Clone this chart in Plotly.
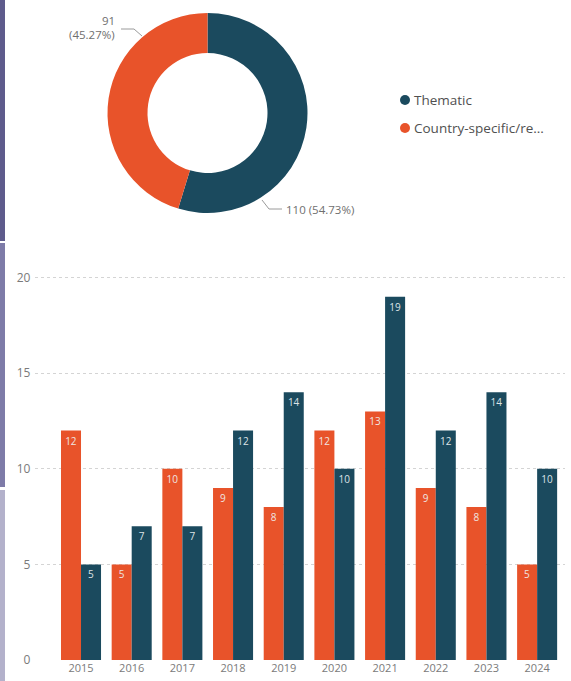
import plotly.graph_objects as go

# Yearly counts by type
years = ["2015", "2016", "2017", "2018", "2019", "2020", "2021", "2022", "2023", "2024"]
country_specific = [12, 5, 10, 9, 8, 12, 13, 9, 8, 5]
thematic = [5, 7, 7, 12, 14, 10, 19, 12, 14, 10]

# Donut categories
donut_labels = ["Thematic", "Country-specific/re..."]
donut_values = [sum(thematic), sum(country_specific)]

TEAL = "#1B4A5E"
ORANGE = "#E8532A"
FONT = "Open Sans, Noto Sans, sans-serif"

W, H = 571, 681


def px(x):
    return x / W


def py(y):
    return 1 - y / H


fig = go.Figure()

# Donut
fig.add_trace(go.Pie(
    labels=donut_labels,
    values=donut_values,
    hole=0.6,
    sort=False,
    direction="clockwise",
    rotation=0,
    marker=dict(colors=[TEAL, ORANGE], line=dict(width=0)),
    textinfo="none",
    hoverinfo="label+value+percent",
    showlegend=False,
    domain=dict(x=[px(107.5), px(307.5)], y=[py(213), py(13)]),
))

# Grouped bars
fig.add_trace(go.Bar(
    x=years, y=country_specific, name="Country-specific/regional",
    marker=dict(color=ORANGE, line=dict(width=0)),
    text=[str(v) for v in country_specific],
    textposition="inside", insidetextanchor="end", textangle=0,
    textfont=dict(color="#EFE6E2", size=10, family=FONT),
    showlegend=False,
))
fig.add_trace(go.Bar(
    x=years, y=thematic, name="Thematic",
    marker=dict(color=TEAL, line=dict(width=0)),
    text=[str(v) for v in thematic],
    textposition="inside", insidetextanchor="end", textangle=0,
    textfont=dict(color="#DDE3E6", size=10, family=FONT),
    showlegend=False,
))

# Donut value labels with elbow leader lines
total = sum(donut_values)
pct = [v / total * 100 for v in donut_values]
label_font = dict(size=11.5, color="#6F6F6F", family=FONT)
annotations = [
    dict(x=px(117), y=py(20), xref="paper", yref="paper", xanchor="right", yanchor="middle",
         text=f"{donut_values[1]}", showarrow=False, align="right", font=label_font),
    dict(x=px(117), y=py(35), xref="paper", yref="paper", xanchor="right", yanchor="middle",
         text=f"({pct[1]:.2f}%)", showarrow=False, align="right", font=label_font),
    dict(x=px(284), y=py(210), xref="paper", yref="paper", xanchor="left", yanchor="middle",
         text=f"{donut_values[0]} ({pct[0]:.2f}%)", showarrow=False, font=label_font),
]
shapes = [
    dict(type="path", xref="paper", yref="paper",
         path=f"M {px(121)} {py(29)} L {px(134)} {py(29)} L {px(142)} {py(36)}",
         line=dict(color="#9A9A9A", width=1)),
    dict(type="path", xref="paper", yref="paper",
         path=f"M {px(262)} {py(200)} L {px(269)} {py(209)} L {px(282)} {py(209)}",
         line=dict(color="#9A9A9A", width=1)),
]

# Legend for the donut
legend_items = [(donut_labels[0], TEAL, 100), (donut_labels[1], ORANGE, 128)]
for label, color, yy in legend_items:
    shapes.append(dict(type="circle", xref="paper", yref="paper",
                       x0=px(400), x1=px(410), y0=py(yy + 5), y1=py(yy - 5),
                       line=dict(width=0), fillcolor=color))
    annotations.append(dict(x=px(412), y=py(yy), xref="paper", yref="paper",
                            xanchor="left", yanchor="middle", showarrow=False,
                            text=label,
                            font=dict(size=13.5, color="#505050", family=FONT)))

# Left edge panel strips
for y0, y1, c in [(0, 241, "#5E5B8C"), (243, 487, "#7E7BA8"), (490, 681, "#B3B1CB")]:
    shapes.append(dict(type="rect", xref="paper", yref="paper",
                       x0=0, x1=px(5), y0=py(y1), y1=py(y0),
                       line=dict(width=0), fillcolor=c, layer="above"))

fig.update_layout(
    width=W, height=H,
    margin=dict(l=0, r=0, t=0, b=0),
    paper_bgcolor="white", plot_bgcolor="white",
    barmode="group", bargap=0.21, bargroupgap=0,
    font=dict(family=FONT),
    annotations=annotations,
    shapes=shapes,
    xaxis=dict(
        domain=[px(35.4), px(565)],
        type="category",
        range=[-0.9, 9.55],
        showgrid=False, showline=False, zeroline=False,
        ticks="", automargin=False,
        tickfont=dict(size=11, color="#7A7A7A", family=FONT),
    ),
    yaxis=dict(
        domain=[py(660), py(270)],
        range=[0, 20.4],
        tickvals=[0, 5, 10, 15, 20],
        showgrid=True, gridcolor="#D4D4D4", griddash="dot", gridwidth=1,
        zeroline=False, showline=False, ticks="", automargin=False,
        ticklabelstandoff=4,
        tickfont=dict(size=12, color="#7A7A7A", family=FONT),
    ),
)

fig.write_html("out.html")
